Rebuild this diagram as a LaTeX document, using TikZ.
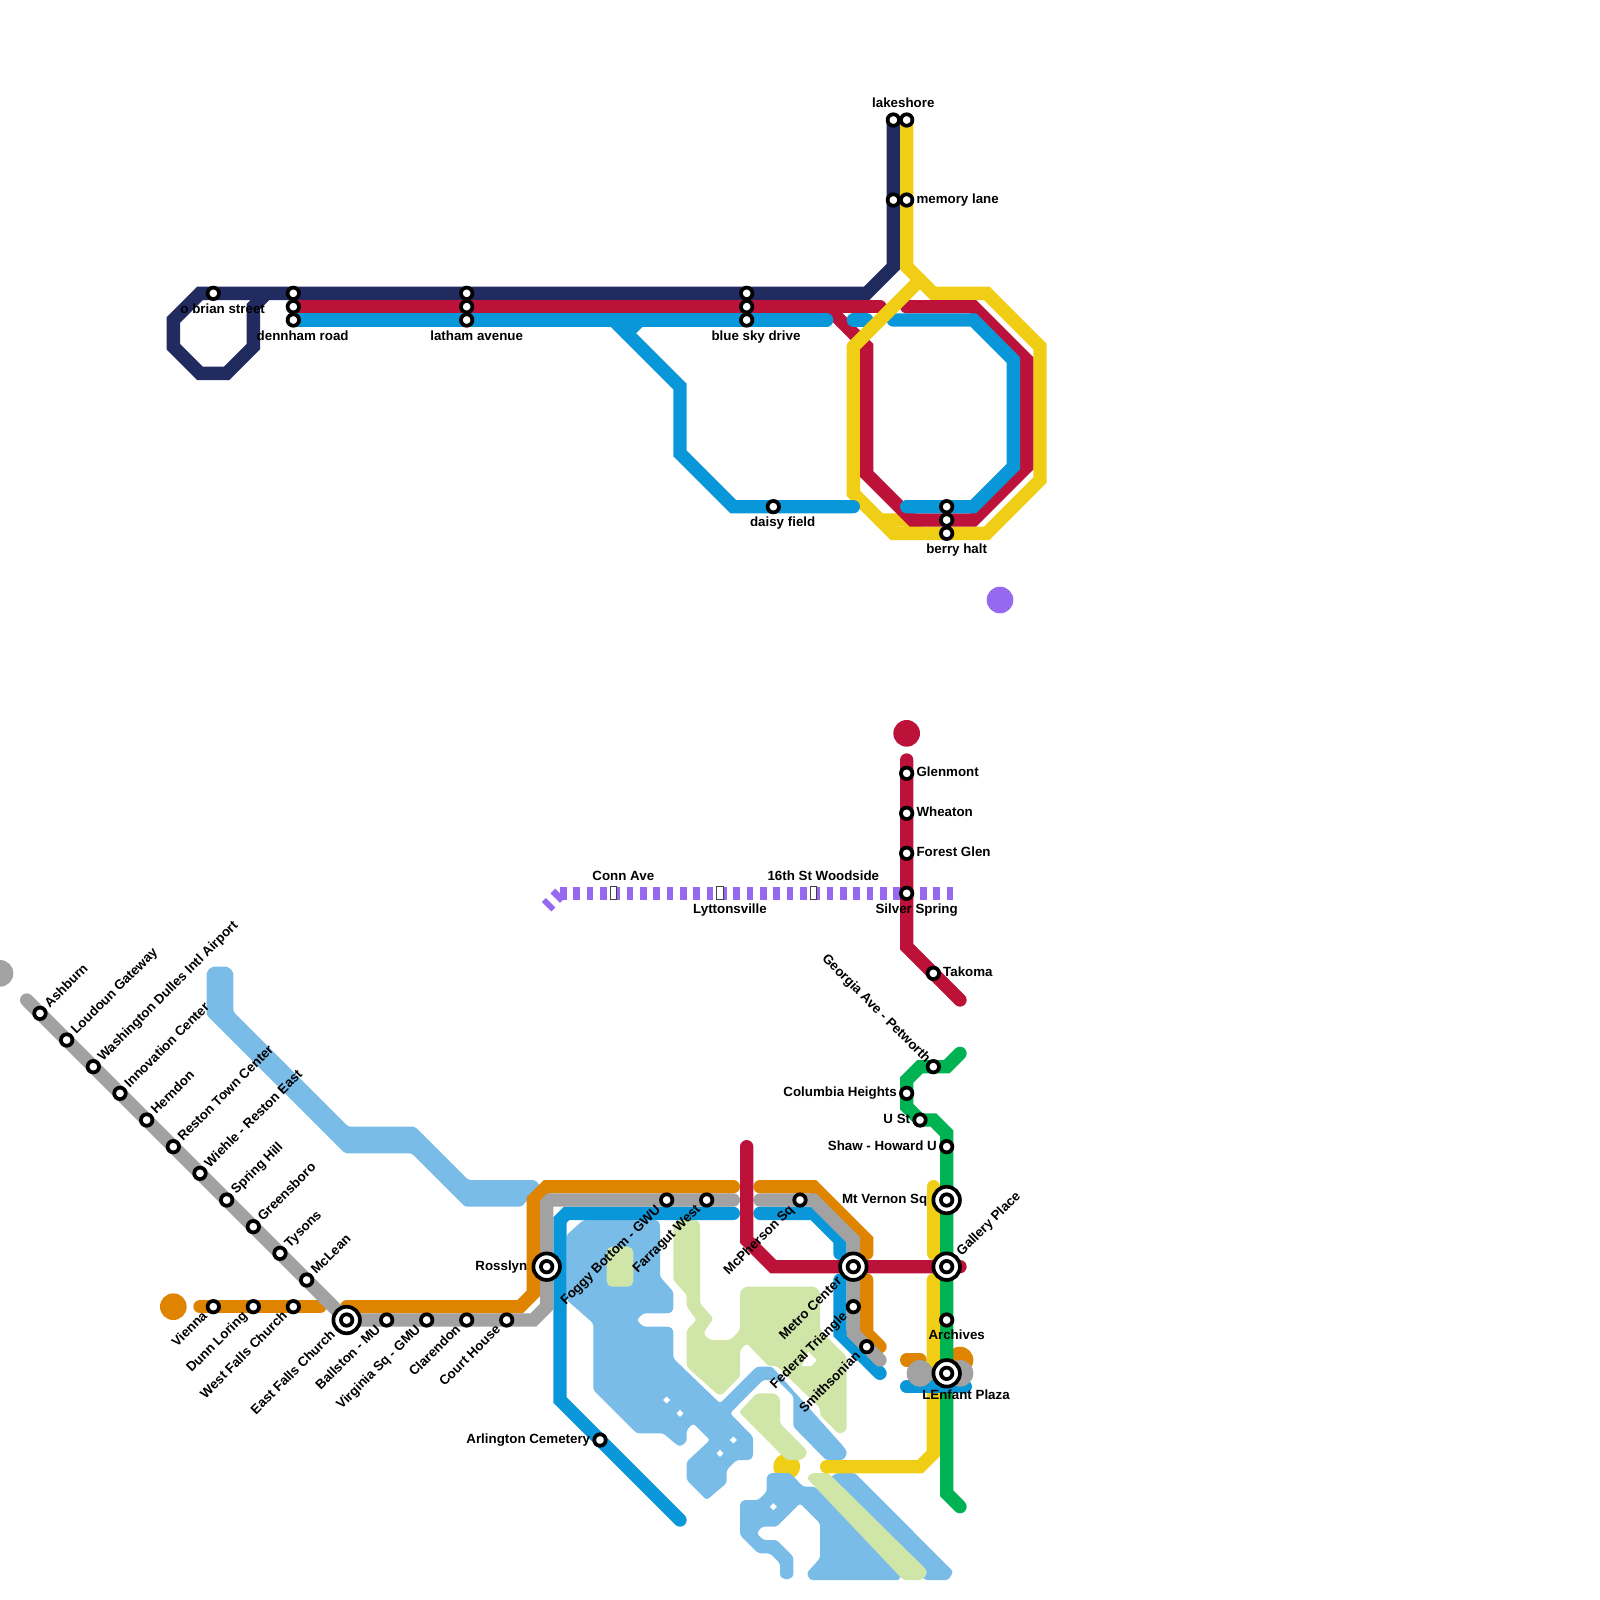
\documentclass[tikz,border=0pt]{standalone}
\usepackage{fontspec}
\setmainfont{Liberation Sans}
\usetikzlibrary{positioning,shapes.geometric}
\definecolor{navyline}{HTML}{212B5F}
\definecolor{redline}{HTML}{BC1239}
\definecolor{blueline}{HTML}{0A97D9}
\definecolor{orangeline}{HTML}{DE8400}
\definecolor{grayline}{HTML}{A2A2A2}
\definecolor{yellowline}{HTML}{F0CE15}
\definecolor{greenline}{HTML}{00B352}
\definecolor{purpleline}{HTML}{9768F0}
\definecolor{riverblue}{HTML}{79BCE8}
\definecolor{parkgreen}{HTML}{D0E6A8}

\begin{document}
\begin{tikzpicture}[
    x=10pt, y=-10pt,
    route/.style={line width=10pt, line cap=round, line join=miter},
    dashroute/.style={line width=10pt, draw=purpleline, dash pattern=on 5pt off 5pt},
    enddot/.style={circle, inner sep=0pt, minimum size=20pt},
    stn/.style={circle, draw=black, fill=white, line width=2.8pt, inner sep=0pt, minimum size=8.6pt},
    xfer/.style={circle, draw=black, fill=white, line width=2.8pt, inner sep=0pt, minimum size=19.9pt,
        path picture={\draw[line width=2.8pt] (path picture bounding box.center) circle (4.3pt);}},
    tofu/.style={rectangle, draw=black!75, fill=white, line width=.9pt, inner sep=0pt, minimum width=4.8pt, minimum height=9.8pt},
    hole/.style={diamond, fill=white, inner sep=0pt, minimum size=5.4pt},
    lbl/.style={font=\fontsize{10}{10}\selectfont\bfseries, inner sep=0pt, text height=7pt, text depth=2pt},
    lblne/.style={lbl, rotate=45, anchor=west, inner xsep=2pt},
    lblsw/.style={lbl, rotate=45, anchor=east, inner xsep=2.5pt},
    lblnw/.style={lbl, rotate=-45, anchor=east},
    river/.style={fill=riverblue, rounded corners=2pt},
    park/.style={fill=parkgreen, rounded corners=2pt},
    node distance=1.5pt
]
\useasboundingbox (0,0) rectangle (120,120);

% end dots
\node[enddot, fill=purpleline] (purpledot) at (75,45) {};
\node[enddot, fill=redline] (reddot) at (68,55) {};
\node[enddot, fill=grayline] (graydot) at (0,73) {};
\node[enddot, fill=orangeline] (orangedot) at (13,98) {};
\node[enddot, fill=yellowline] (yellowdot) at (59,110) {};
\node[enddot, fill=orangeline] (lenfantorange) at (72,102) {};

% river and parks, traced in pixels
\begin{scope}[x=.75pt, y=-.75pt]
\path[river] (206.7,971.7) -- (211.7,966.7) -- (228,966.7) -- (233.3,971.7) -- (233.3,1011.7) -- (348.3,1126.7) -- (415,1126.7) -- (468.3,1180) -- (535,1180) -- (540,1185) -- (521.7,1206.7) -- (465,1206.7) -- (411.7,1153.3) -- (345,1153.3) -- (206.7,1015) -- cycle;
\path[river] (583.3,1220) -- (656.7,1220) -- (660,1223) -- (660,1276.7) -- (673.3,1291.7) -- (673.3,1310) -- (670,1313.3) -- (643.3,1313.3) -- (636.7,1320) -- (643.3,1326.7) -- (670,1326.7) -- (673.3,1330) -- (673.3,1358.3) -- (720,1403.3) -- (756.7,1366.7) -- (772,1366.7) -- (843,1446) -- (846.7,1451) -- (846.7,1455) -- (843,1460) -- (826,1460) -- (793.3,1426.7) -- (793.3,1396) -- (777,1380) -- (763,1380) -- (730,1413.3) -- (753,1436.7) -- (753,1456.7) -- (750,1460) -- (736.7,1460) -- (726.7,1470) -- (726.7,1483) -- (706.7,1500) -- (686.7,1480) -- (686.7,1461.7) -- (710,1440) -- (693.3,1423.3) -- (686.7,1430) -- (686.7,1441.7) -- (680,1446.7) -- (675,1443.3) -- (663.3,1433.3) -- (636.7,1433.3) -- (593.3,1390) -- (593.3,1323.3) -- (566.7,1300) -- (566.7,1235) -- cycle;
\path[river] (766.7,1476.7) -- (770,1473) -- (790,1473) -- (803.3,1486.7) -- (815,1486.7) -- (900,1571) -- (900,1580) -- (810,1580) -- (806.7,1573) -- (820,1558.3) -- (820,1523.3) -- (800,1503.3) -- (776.7,1526.7) -- (761.7,1526.7) -- (756.7,1533.3) -- (763.3,1540) -- (776.7,1540) -- (793.3,1556.7) -- (793.3,1576.7) -- (786.7,1580) -- (780,1576.7) -- (780,1563.3) -- (770,1553.3) -- (758.3,1553.3) -- (740,1535) -- (740,1503.3) -- (743.3,1500) -- (758.3,1500) -- (766.7,1491.7) -- cycle;
\path[river] (836.7,1473) -- (855,1473) -- (953.3,1571.7) -- (948.3,1580) -- (925,1580) -- (826,1480) -- cycle;
\path[park] (806.7,1478) -- (811.7,1473) -- (828.3,1473) -- (926.7,1570) -- (926.7,1575) -- (921.7,1580) -- (903.3,1580) -- cycle;
\path[park] (678,1220) -- (696.7,1220) -- (700,1223) -- (700,1303.3) -- (713.3,1318.3) -- (703.3,1333.3) -- (710,1340) -- (730,1340) -- (740,1330) -- (740,1291.7) -- (745,1286.7) -- (815,1286.7) -- (820,1291.7) -- (820,1330) -- (846.7,1356.7) -- (846.7,1430) -- (841.7,1433.3) -- (838,1433.3) -- (820,1415) -- (820,1408) -- (776.7,1366) -- (768.3,1366) -- (746.7,1343.3) -- (740,1350) -- (740,1376.7) -- (722,1394.7) -- (718,1394.7) -- (686.7,1366.7) -- (686.7,1330) -- (696.7,1320) -- (686.7,1306.7) -- (686.7,1295) -- (673.3,1280) -- (673.3,1225) -- cycle;
\path[park] (740,1411) -- (756.7,1393.3) -- (775,1393.3) -- (780,1398) -- (780,1423.3) -- (806.7,1450) -- (806.7,1455) -- (801.7,1460) -- (786.7,1460) -- (740,1413) -- cycle;
\path[park, rounded corners=4pt] (606.7,1246.7) rectangle (633.3,1286.7);
\path[fill=white] (808.3,1351.7) -- (816.7,1360) -- (811.7,1366) -- (801.7,1366) -- cycle;
\end{scope}
\node[hole] (holea) at (50,105) {};
\node[hole] (holeb) at (51,106) {};
\node[hole] (holec) at (55,108) {};
\node[hole] (holed) at (54,109) {};
\node[hole] (holee) at (58,113) {};

% top network
\draw[route, navyline] (67,9) -- (67,20) -- (65,22) -- (15,22) -- (13,24) -- (13,26) -- (15,28) -- (17,28) -- (19,26) -- (19,23) -- (20,22);
\draw[route, yellowline] (68,9) -- (68,20) -- (70,22) -- (74,22) -- (78,26) -- (78,36) -- (74,40) -- (67,40) -- (64,37) -- (64,26);
\draw[route, yellowline] (66,39) -- (68,39) -- (69,40);
\draw[route, redline] (22,23) -- (66,23);
\draw[route, redline] (62,23) -- (65,26) -- (65,35.55) -- (68.45,39) -- (73,39) -- (77,35) -- (77,27) -- (73,23) -- (68,23);
\draw[route, blueline] (22,24) -- (62,24);
\draw[route, blueline] (46,24) -- (51,29) -- (51,34) -- (55,38) -- (64,38);
\draw[route, blueline] (48,24) -- (47,25);
\draw[route, blueline] (64,24) -- (65,24);
\draw[route, blueline] (67,24) -- (73,24) -- (76,27) -- (76,35) -- (73,38) -- (68,38);
\draw[route, yellowline] (64,26) -- (69,21);

% bottom network
\draw[dashroute] (42,67) -- (71.5,67);
\draw[dashroute] (42,67) -- (41,68);
\draw[route, redline] (68,57) -- (68,71) -- (72,75);
\draw[route, orangeline] (15,98) -- (24,98);
\draw[route, orangeline] (26,98) -- (39,98) -- (40,97) -- (40,90) -- (41,89) -- (55,89);
\draw[route, orangeline] (57,89) -- (61,89) -- (65,93) -- (65,94);
\draw[route, orangeline] (65,96) -- (65,100) -- (66,101);
\draw[route, blueline] (55,91) -- (42.5,91) -- (42,91.5) -- (42,105) -- (51,114);
\draw[route, blueline] (57,91) -- (61,91) -- (63,93) -- (63,94);
\draw[route, blueline] (63,96) -- (63,100) -- (66,103);
\draw[route, grayline] (2,75) -- (26,99) -- (40,99) -- (41,98) -- (41,90.25) -- (41.25,90) -- (55,90);
\draw[route, grayline] (57,90) -- (61,90) -- (64,93) -- (64,94);
\draw[route, grayline] (64,96) -- (64,100) -- (66,102);
\draw[route, yellowline] (70,89) -- (70,94);
\draw[route, yellowline] (70,96) -- (70,109) -- (69,110) -- (62,110);
\draw[route, redline] (56,86) -- (56,93) -- (58,95) -- (72,95);
\draw[route, greenline] (72,79) -- (71,80) -- (69,80) -- (68,81) -- (68,83) -- (69,84) -- (70,84) -- (71,85) -- (71,112) -- (72,113);
\draw[route, orangeline] (68,102) -- (69,102);
\draw[route, blueline] (68,104) -- (72.4,104);
\node[enddot, fill=grayline] (lenfantgrayw) at (69,103) {};
\node[enddot, fill=grayline] (lenfantgraye) at (72,103) {};

% stations, top
\node[stn] (obrian) at (16,22) {};
\node[stn] (dennhamn) at (22,22) {};
\node[stn] (dennhamm) at (22,23) {};
\node[stn] (dennhams) at (22,24) {};
\node[stn] (lathamn) at (35,22) {};
\node[stn] (lathamm) at (35,23) {};
\node[stn] (lathams) at (35,24) {};
\node[stn] (blueskyn) at (56,22) {};
\node[stn] (blueskym) at (56,23) {};
\node[stn] (blueskys) at (56,24) {};
\node[stn] (lakeshorew) at (67,9) {};
\node[stn] (lakeshoree) at (68,9) {};
\node[stn] (memoryw) at (67,15) {};
\node[stn] (memorye) at (68,15) {};
\node[stn] (daisy) at (58,38) {};
\node[stn] (berryn) at (71,38) {};
\node[stn] (berrym) at (71,39) {};
\node[stn] (berrys) at (71,40) {};

% stations, bottom
\node[stn] (ashburn) at (3,76) {};
\node[stn] (loudoun) at (5,78) {};
\node[stn] (dulles) at (7,80) {};
\node[stn] (innovation) at (9,82) {};
\node[stn] (herndon) at (11,84) {};
\node[stn] (reston) at (13,86) {};
\node[stn] (wiehle) at (15,88) {};
\node[stn] (springhill) at (17,90) {};
\node[stn] (greensboro) at (19,92) {};
\node[stn] (tysons) at (21,94) {};
\node[stn] (mclean) at (23,96) {};
\node[stn] (vienna) at (16,98) {};
\node[stn] (dunn) at (19,98) {};
\node[stn] (westfalls) at (22,98) {};
\node[xfer] (eastfalls) at (26,99) {};
\node[stn] (ballston) at (29,99) {};
\node[stn] (virginia) at (32,99) {};
\node[stn] (clarendon) at (35,99) {};
\node[stn] (courthouse) at (38,99) {};
\node[xfer] (rosslyn) at (41,95) {};
\node[stn] (arlington) at (45,108) {};
\node[stn] (foggy) at (50,90) {};
\node[stn] (farragut) at (53,90) {};
\node[stn] (mcpherson) at (60,90) {};
\node[xfer] (metro) at (64,95) {};
\node[stn] (federal) at (64,98) {};
\node[stn] (smithsonian) at (65,101) {};
\node[stn] (glenmont) at (68,58) {};
\node[stn] (wheaton) at (68,61) {};
\node[stn] (forest) at (68,64) {};
\node[stn] (silver) at (68,67) {};
\node[stn] (takoma) at (70,73) {};
\node[stn] (georgia) at (70,80) {};
\node[stn] (columbia) at (68,82) {};
\node[stn] (ust) at (69,84) {};
\node[stn] (shaw) at (71,86) {};
\node[xfer] (vernon) at (71,90) {};
\node[xfer] (gallery) at (71,95) {};
\node[stn] (archives) at (71,99) {};
\node[xfer] (lenfant) at (71,103) {};
\node[tofu] (conn) at (46,67) {};
\node[tofu] (lyttons) at (54,67) {};
\node[tofu] (woodside) at (61,67) {};

% labels
\node[lbl] at (16.7,23.25) {o brian street};
\node[lbl] at (22.7,25.25) {dennham road};
\node[lbl] at (35.75,25.25) {latham avenue};
\node[lbl] at (56.7,25.3) {blue sky drive};
\node[lbl] at (67.75,7.8) {lakeshore};
\node[lbl, right=of memorye] {memory lane};
\node[lbl] at (58.7,39.25) {daisy field};
\node[lbl] at (71.75,41.25) {berry halt};
\node[lbl] at (46.75,65.75) {Conn Ave};
\node[lbl] at (54.75,68.25) {Lyttonsville};
\node[lbl] at (61.75,65.75) {16th St Woodside};
\node[lbl] at (68.75,68.25) {Silver Spring};
\node[lbl, right=of glenmont] {Glenmont};
\node[lbl, right=of wheaton] {Wheaton};
\node[lbl, right=of forest] {Forest Glen};
\node[lbl, right=of takoma] {Takoma};
\node[lbl, left=of columbia] {Columbia Heights};
\node[lbl, left=of ust] {U St};
\node[lbl, left=of shaw] {Shaw - Howard U};
\node[lbl, left=3pt of vernon] {Mt Vernon Sq};
\node[lbl, left=3pt of rosslyn] {Rosslyn};
\node[lbl, left=of arlington] {Arlington Cemetery};
\node[lbl] at (71.75,100.2) {Archives};
\node[lbl] at (72.45,104.7) {LEnfant Plaza};
\node[lblne] at (ashburn.north east) {Ashburn};
\node[lblne] at (loudoun.north east) {Loudoun Gateway};
\node[lblne] at (dulles.north east) {Washington Dulles Intl Airport};
\node[lblne] at (innovation.north east) {Innovation Center};
\node[lblne] at (herndon.north east) {Herndon};
\node[lblne] at (reston.north east) {Reston Town Center};
\node[lblne] at (wiehle.north east) {Wiehle - Reston East};
\node[lblne] at (springhill.north east) {Spring Hill};
\node[lblne] at (greensboro.north east) {Greensboro};
\node[lblne] at (tysons.north east) {Tysons};
\node[lblne] at (mclean.north east) {McLean};
\node[lblne] at (gallery.north east) {Gallery Place};
\node[lblsw] at (vienna.south west) {Vienna};
\node[lblsw] at (dunn.south west) {Dunn Loring};
\node[lblsw] at (westfalls.south west) {West Falls Church};
\node[lblsw] at (eastfalls.south west) {East Falls Church};
\node[lblsw] at (ballston.south west) {Ballston - MU};
\node[lblsw] at (virginia.south west) {Virginia Sq - GMU};
\node[lblsw] at (clarendon.south west) {Clarendon};
\node[lblsw] at (courthouse.south west) {Court House};
\node[lblsw] at (foggy.south west) {Foggy Bottom - GWU};
\node[lblsw] at (farragut.south west) {Farragut West};
\node[lblsw] at (mcpherson.south west) {McPherson Sq};
\node[lblsw] at (metro.south west) {Metro Center};
\node[lblsw] at (federal.south west) {Federal Triangle};
\node[lblsw] at (smithsonian.south west) {Smithsonian};
\node[lblnw] at (georgia.north west) {Georgia Ave - Petworth};
\end{tikzpicture}
\end{document}
